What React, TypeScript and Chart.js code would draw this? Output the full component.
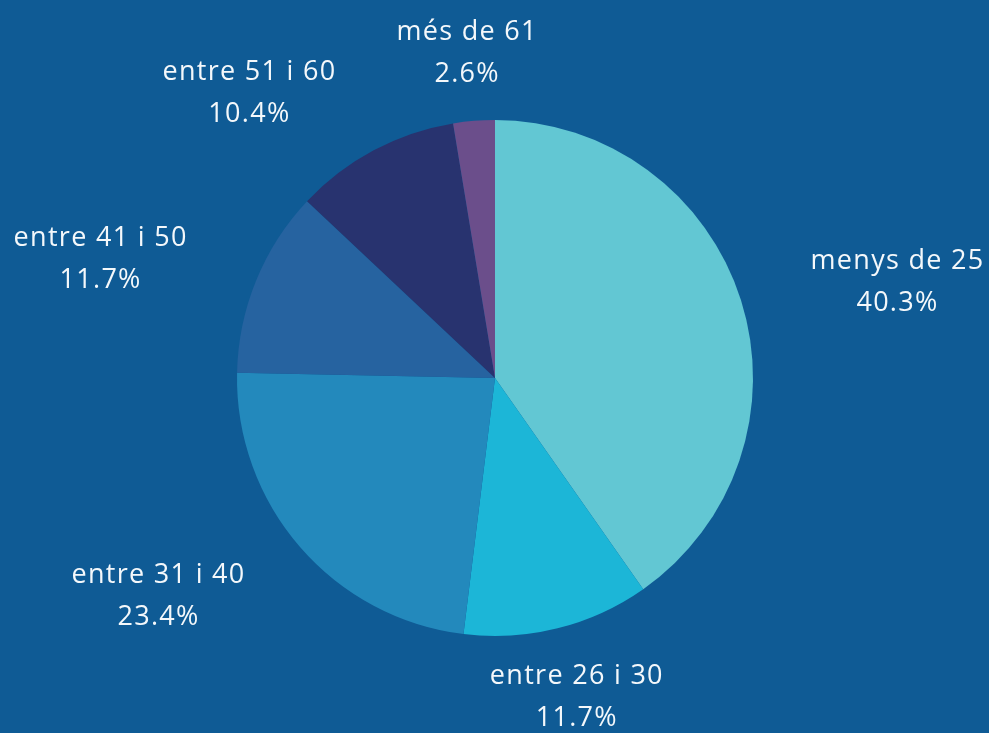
import React, { useEffect, useRef } from "react";
import { Chart, registerables } from "chart.js";

Chart.register(...registerables);

const categories = ["menys de 25", "entre 26 i 30", "entre 31 i 40", "entre 41 i 50", "entre 51 i 60", "més de 61"];
const values = [40.3, 11.7, 23.4, 11.7, 10.4, 2.6];
const valueLabels = ["40.3%", "11.7%", "23.4%", "11.7%", "10.4%", "2.6%"];

const colors = ["#62c7d3", "#1cb6d7", "#2389bc", "#2663a0", "#28336f", "#6b4e8b"];
const BG = "#0f5b95";

// label placement: [angle shift (deg), distance as multiple of radius]
const labelPlacement: [number, number][] = [
  [4.1, 1.6],
  [-0.2, 1.275],
  [8, 1.558],
  [-5.5, 1.6],
  [-12.8, 1.461],
  [-0.4, 1.264],
];

const labelPlugin = {
  id: "outerLabels",
  afterDatasetsDraw(chart: any) {
    const meta = chart.getDatasetMeta(0);
    const ctx = chart.ctx;
    ctx.save();
    ctx.fillStyle = "#f4f8fb";
    ctx.font = "27px 'Open Sans', sans-serif";
    (ctx as any).letterSpacing = "1.3px";
    ctx.textAlign = "center";
    ctx.textBaseline = "middle";
    meta.data.forEach((arc: any, i: number) => {
      const { x, y, startAngle, endAngle, outerRadius } = arc.getProps(["x", "y", "startAngle", "endAngle", "outerRadius"], true);
      const [shift, dist] = labelPlacement[i];
      const mid = (startAngle + endAngle) / 2 + (shift * Math.PI) / 180;
      const lx = x + Math.cos(mid) * outerRadius * dist;
      const ly = y + Math.sin(mid) * outerRadius * dist;
      ctx.fillText(categories[i], lx + 1, ly - 21);
      ctx.fillText(valueLabels[i], lx + 1, ly + 21);
    });
    ctx.restore();
  },
};

export default function App() {
  const ref = useRef<HTMLCanvasElement>(null);
  useEffect(() => {
    if (!ref.current) return;
    const chart = new Chart(ref.current, {
      type: "pie",
      data: {
        labels: categories,
        datasets: [
          {
            data: values,
            backgroundColor: colors,
            borderWidth: 0,
          },
        ],
      },
      options: {
        responsive: false,
        animation: false,
        layout: { padding: { left: 237, right: 236, top: 120, bottom: 97 } },
        plugins: {
          legend: { display: false },
          tooltip: { enabled: false },
        },
      },
      plugins: [labelPlugin],
    });
    return () => chart.destroy();
  }, []);
  return (
    <div style={{ position: "fixed", left: 0, top: 0, width: 989, height: 733, background: BG }}>
      <canvas ref={ref} width={989} height={733} style={{ display: "block" }} />
    </div>
  );
}
